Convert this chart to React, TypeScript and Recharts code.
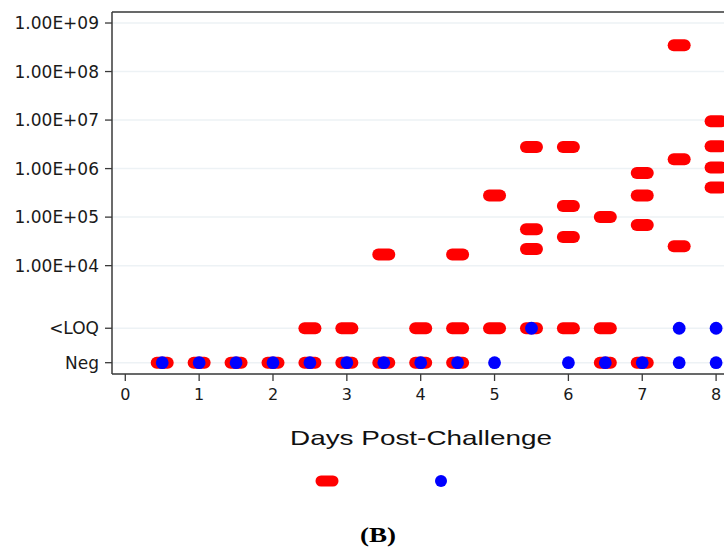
import React from 'react';
import {
  ScatterChart,
  Scatter,
  XAxis,
  YAxis,
  CartesianGrid,
  ReferenceLine,
  Legend,
} from 'recharts';

// values, by day post-challenge
const redNegDays = [0.5, 1, 1.5, 2, 2.5, 3, 3.5, 4, 4.5, 6.5, 7];
const redLoqDays = [2.5, 3, 4, 4.5, 5, 5.5, 6, 6.5];
const redQuantDays = [3.5, 4.5, 5, 5.5, 5.5, 5.5, 6, 6, 6, 6.5, 7, 7, 7, 7.5, 7.5, 7.5, 8, 8, 8, 8];
const redQuantCopies = [
  1.7e4, 1.7e4, 2.8e5, 2.8e6, 5.6e4, 2.2e4, 2.8e6, 1.7e5, 3.9e4, 1.0e5,
  8.1e5, 2.8e5, 6.9e4, 3.5e8, 1.56e6, 2.5e4, 9.5e6, 2.9e6, 1.05e6, 4.1e5,
];
const blueNegDays = [0.5, 1, 1.5, 2, 2.5, 3, 3.5, 4, 4.5, 5, 6, 6.5, 7, 7.5, 8];
const blueLoqDays = [5.5, 7.5, 8];

const xTicks = [0, 1, 2, 3, 4, 5, 6, 7, 8];
const yTickValues: (string | number)[] = ['Neg', '<LOQ', 1e4, 1e5, 1e6, 1e7, 1e8, 1e9];
const yTickLabels = ['Neg', '<LOQ', '1.00E+04', '1.00E+05', '1.00E+06', '1.00E+07', '1.00E+08', '1.00E+09'];

// position on the plotted scale: log10 for quantified values, fixed slots below
const NEG_POS = 2;
const LOQ_POS = 2.71;
const toPos = (v: string | number) =>
  v === 'Neg' ? NEG_POS : v === '<LOQ' ? LOQ_POS : Math.log10(v as number);

const yTicks = yTickValues.map(toPos);
const yLabelFor = (p: number) => yTickLabels[yTicks.indexOf(p)] ?? '';

const buildPoints = (days: number[], vals: (string | number)[]) =>
  days.map((d, i) => ({ day: d, pos: toPos(vals[i]) }));

const redData = [
  ...buildPoints(redNegDays, redNegDays.map(() => 'Neg')),
  ...buildPoints(redLoqDays, redLoqDays.map(() => '<LOQ')),
  ...buildPoints(redQuantDays, redQuantCopies),
];
const blueData = [
  ...buildPoints(blueNegDays, blueNegDays.map(() => 'Neg')),
  ...buildPoints(blueLoqDays, blueLoqDays.map(() => '<LOQ')),
];

const RED = '#ff0000';
const BLUE = '#0000ff';

const Capsule = (props: any) => {
  const { cx, cy } = props;
  if (cx == null || cy == null) return null;
  return <rect x={cx - 11.5} y={cy - 6} width={23} height={12} rx={6} ry={6} fill={RED} />;
};

const Dot = (props: any) => {
  const { cx, cy } = props;
  if (cx == null || cy == null) return null;
  return <circle cx={cx} cy={cy} r={6.4} fill={BLUE} />;
};

const XLabel = (props: any) => {
  const vb = props.viewBox || {};
  const cx = (vb.x ?? 112) + (vb.width ?? 612) / 2 + 3;
  return (
    <text
      x={cx}
      y={445}
      textAnchor="middle"
      fontFamily="'Liberation Sans', Arial, sans-serif"
      fontSize={21}
      fill="#111"
      textLength={262}
      lengthAdjust="spacingAndGlyphs"
    >
      Days Post-Challenge
    </text>
  );
};

const POS_LEGEND_X = 327;
const NEG_LEGEND_X = 441;

const renderLegend = (props: any) => {
  const payload = props.payload || [];
  return (
    <svg width={724} height={24} style={{ display: 'block' }}>
      {payload.map((entry: any, i: number) =>
        entry.value === 'Positive' ? (
          <rect key={i} x={POS_LEGEND_X - 11.5} y={6.5} width={23} height={11} rx={5.5} fill={RED} />
        ) : (
          <circle key={i} cx={NEG_LEGEND_X} cy={12} r={6} fill={BLUE} />
        )
      )}
    </svg>
  );
};

export default function App() {
  return (
    <div style={{ position: 'absolute', left: 0, top: 0, width: 724, height: 550, background: '#fff' }}>
      <ScatterChart width={724} height={550} margin={{ top: 12, right: 0, left: 0, bottom: 0 }}>
        <CartesianGrid vertical={false} stroke="#edf2f5" strokeWidth={1.5} />
        <XAxis
          type="number"
          dataKey="day"
          domain={[-0.18, 8.107]}
          allowDataOverflow
          ticks={xTicks}
          interval={0}
          height={176}
          tickSize={7}
          tickMargin={8}
          axisLine={{ stroke: '#3a3a3a', strokeWidth: 1.5 }}
          tickLine={{ stroke: '#3a3a3a', strokeWidth: 1.3 }}
          tick={{ fill: '#1a1a1a', fontSize: 16, fontFamily: "'DejaVu Sans', sans-serif" }}
          label={<XLabel />}
        />
        <YAxis
          type="number"
          dataKey="pos"
          domain={[1.767, 9.227]}
          allowDataOverflow
          ticks={yTicks}
          interval={0}
          width={112}
          tickSize={7}
          tickMargin={6}
          tickFormatter={yLabelFor}
          axisLine={{ stroke: '#3a3a3a', strokeWidth: 1.5 }}
          tickLine={{ stroke: '#3a3a3a', strokeWidth: 1.3 }}
          tick={{ fill: '#1a1a1a', fontSize: 17, fontFamily: "'DejaVu Sans', sans-serif" }}
        />
        <ReferenceLine y={9.227} stroke="#3a3a3a" strokeWidth={1.5} />
        <Legend
          layout="vertical"
          align="center"
          verticalAlign="middle"
          content={renderLegend}
          wrapperStyle={{ left: 0, top: 469, width: 724, height: 24, margin: 0 }}
        />
        <Scatter name="Positive" data={redData} fill={RED} shape={<Capsule />} isAnimationActive={false} />
        <Scatter name="Negative" data={blueData} fill={BLUE} shape={<Dot />} isAnimationActive={false} />
      </ScatterChart>
      <svg width={724} height={550} style={{ position: 'absolute', left: 0, top: 0, pointerEvents: 'none' }}>
        <text
          x={378}
          y={542}
          textAnchor="middle"
          fontFamily="'Liberation Serif', 'Times New Roman', serif"
          fontWeight="bold"
          fontSize={21}
          fill="#000"
          textLength={36}
          lengthAdjust="spacingAndGlyphs"
        >
          (B)
        </text>
      </svg>
    </div>
  );
}
